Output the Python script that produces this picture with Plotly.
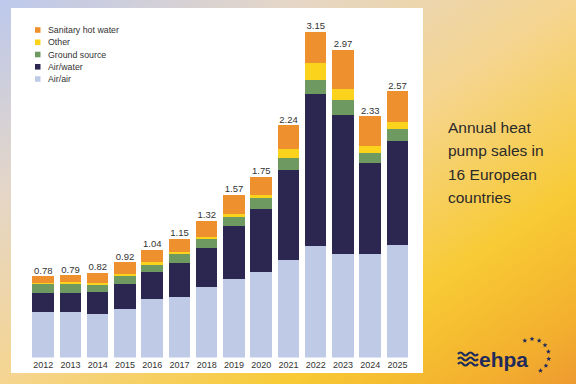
import base64, math
import plotly.graph_objects as go

years = [str(y) for y in range(2012, 2026)]
air_air = [0.444, 0.444, 0.418, 0.473, 0.56, 0.586, 0.68, 0.76, 0.827, 0.94, 1.075, 1.0, 0.995, 1.09]
air_water = [0.174, 0.18, 0.216, 0.238, 0.264, 0.328, 0.376, 0.51, 0.61, 0.87, 1.47, 1.34, 0.88, 1.0]
ground_source = [0.097, 0.097, 0.077, 0.08, 0.08, 0.09, 0.084, 0.09, 0.106, 0.12, 0.135, 0.15, 0.097, 0.116]
other = [0.005, 0.005, 0.005, 0.016, 0.016, 0.016, 0.026, 0.022, 0.022, 0.08, 0.16, 0.106, 0.07, 0.07]
sanitary = [0.065, 0.07, 0.1, 0.112, 0.116, 0.128, 0.15, 0.186, 0.178, 0.232, 0.305, 0.37, 0.29, 0.30]
totals = [0.78, 0.79, 0.82, 0.92, 1.04, 1.15, 1.32, 1.57, 1.75, 2.24, 3.15, 2.97, 2.33, 2.57]

series_names = ["Air/air", "Air/water", "Ground source", "Other", "Sanitary hot water"]
series_values = [air_air, air_water, ground_source, other, sanitary]
series_colors = ["#bfcbe6", "#2b2750", "#6e9a62", "#fbd31c", "#ef902e"]

W, H = 576, 384
FONT = "Liberation Sans, Arial, sans-serif"

def px(x):
    return x / W

def py(y):
    return 1 - y / H

# background: gradient + white panel + logo decoration
stars = []
cx, cy, R = 532, 356, 17
for ang in [-115, -90, -65, -40, -15, 10, 35, 60]:
    a = math.radians(ang)
    sx, sy = cx + R * math.cos(a), cy + R * math.sin(a)
    pts = []
    for k in range(10):
        r = 2.6 if k % 2 == 0 else 1.1
        t = math.radians(-90 + 36 * k)
        pts.append(f"{sx + r*math.cos(t):.2f},{sy + r*math.sin(t):.2f}")
    stars.append(f'<polygon points="{" ".join(pts)}" fill="#1f2b5b"/>')
waves = []
for i, yy in enumerate([354, 359, 364]):
    waves.append(f'<path d="M458,{yy} q2.5,-3 5,0 t5,0 t5,0 t5,0" stroke="#1f2b5b" stroke-width="2.2" fill="none"/>')

svg = f'''<svg xmlns="http://www.w3.org/2000/svg" width="{W}" height="{H}" viewBox="0 0 {W} {H}">
<defs><linearGradient id="g" x1="0" y1="0" x2="1" y2="1">
<stop offset="0" stop-color="#bcc8ec"/>
<stop offset="0.25" stop-color="#e4d6c8"/>
<stop offset="0.5" stop-color="#f5d590"/>
<stop offset="0.75" stop-color="#f8ca34"/>
<stop offset="0.92" stop-color="#f3ae2e"/>
<stop offset="1" stop-color="#ee9a30"/>
</linearGradient></defs>
<rect x="0" y="0" width="{W}" height="{H}" fill="url(#g)"/>
<rect x="11" y="8" width="412" height="365" fill="#ffffff"/>
{"".join(waves)}
{"".join(stars)}
</svg>'''
uri = "data:image/svg+xml;base64," + base64.b64encode(svg.encode()).decode()

fig = go.Figure()
for name, vals, col in zip(series_names, series_values, series_colors):
    fig.add_trace(go.Bar(x=years, y=vals, name=name, marker=dict(color=col, line=dict(width=0)),
                         showlegend=False, hoverinfo="x+y+name"))

fig.add_trace(go.Scatter(x=years, y=totals, mode="text", text=[f"{t:.2f}" for t in totals],
                         textposition="top center", textfont=dict(size=9.5, color="#333333", family=FONT),
                         showlegend=False, cliponaxis=False, hoverinfo="skip"))

base_px, top_val, unit = 357.5, 3.3, 103.6
top_px = base_px - top_val * unit

fig.update_layout(
    width=W, height=H, autosize=False,
    margin=dict(l=0, r=0, t=0, b=0),
    paper_bgcolor="#f5d590", plot_bgcolor="rgba(0,0,0,0)",
    barmode="stack", bargap=0.21,
    font=dict(family=FONT, color="#333333"),
    xaxis=dict(domain=[px(29.6), px(411.1)], range=[-0.5, 13.5], type="category",
               showgrid=False, zeroline=False, showline=False, ticks="",
               tickfont=dict(size=9, color="#333333", family=FONT)),
    yaxis=dict(domain=[py(base_px), py(top_px)], range=[0, top_val], visible=False,
               showgrid=False, zeroline=False),
    images=[dict(source=uri, xref="paper", yref="paper", x=0, y=1, sizex=1, sizey=1,
                 sizing="stretch", layer="below", xanchor="left", yanchor="top")],
)

# manual legend (top to bottom: reversed stacking order)
legend_rows = [30, 42.3, 54.5, 66.8, 79]
shapes, annos = [], []
for row_y, name, col in zip(legend_rows, series_names[::-1], series_colors[::-1]):
    shapes.append(dict(type="rect", xref="paper", yref="paper",
                       x0=px(35), x1=px(40.5), y0=py(row_y + 2.8), y1=py(row_y - 2.8),
                       fillcolor=col, line=dict(width=0)))
    annos.append(dict(text=name, xref="paper", yref="paper", x=px(46), y=py(row_y),
                      xanchor="left", yanchor="middle", showarrow=False,
                      font=dict(size=8.8, color="#333333", family=FONT)))

for line_txt, ly in zip(["Annual heat", "pump sales in", "16 European", "countries"],
                        [127, 150.5, 174, 197.5]):
    annos.append(dict(text=line_txt, xref="paper", yref="paper", x=px(446), y=py(ly),
                      xanchor="left", yanchor="middle", showarrow=False,
                      font=dict(size=15.5, color="#2a2a2a", family=FONT)))

annos.append(dict(text="<b>ehpa</b>", xref="paper", yref="paper", x=px(477), y=py(359),
                  xanchor="left", yanchor="middle", showarrow=False,
                  font=dict(size=21, color="#1f2b5b", family=FONT)))

fig.update_layout(shapes=shapes, annotations=annos)
fig.write_html("out.html", config={"displayModeBar": False},
               post_script="document.body.style.margin='0';document.body.style.padding='0';document.body.style.overflow='hidden';")
